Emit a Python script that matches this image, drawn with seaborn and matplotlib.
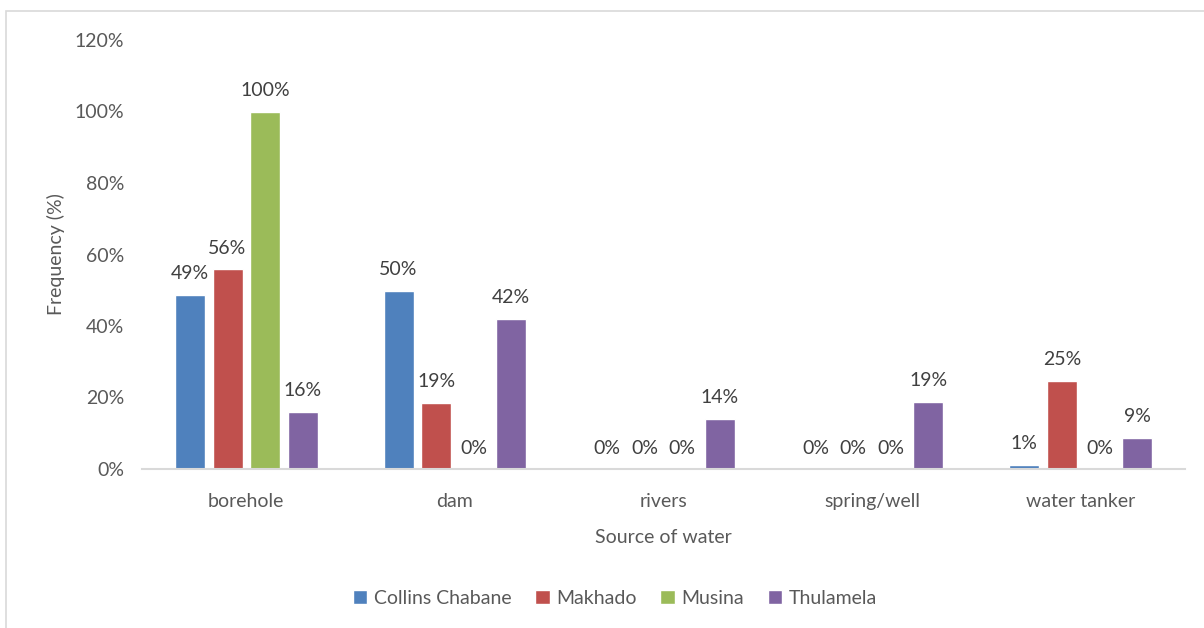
import matplotlib
matplotlib.use("Agg")
import matplotlib.pyplot as plt
import seaborn as sns
import pandas as pd
from matplotlib.patches import Rectangle

sources = ["borehole", "dam", "rivers", "spring/well", "water tanker"]
municipalities = ["Collins Chabane", "Makhado", "Musina", "Thulamela"]
collins_chabane = [0.487, 0.498, 0.0, 0.0, 0.012]
makhado = [0.559, 0.186, 0.0, 0.0, 0.247]
musina = [1.0, 0.0, 0.0, 0.0, 0.0]
thulamela = [0.160, 0.420, 0.140, 0.188, 0.087]
colors = ["#4F81BD", "#C0504D", "#9BBB59", "#8064A2"]
yticks = [0, 0.2, 0.4, 0.6, 0.8, 1.0, 1.2]

series = [collins_chabane, makhado, musina, thulamela]
rows = []
for m, vals in zip(municipalities, series):
    for s, v in zip(sources, vals):
        rows.append({"Source of water": s, "Municipality": m, "Frequency": v})
df = pd.DataFrame(rows)

sns.set_theme(style="white")
plt.rcParams["font.family"] = ["Lato", "DejaVu Sans"]
text_color = "#595959"
fs = 14

fig = plt.figure(figsize=(12.04, 6.28), dpi=100)
ax = fig.add_axes([142 / 1204, 1 - 469 / 628, (1185 - 142) / 1204, (469 - 40) / 628])

sns.barplot(data=df, x="Source of water", y="Frequency", hue="Municipality",
            order=sources, hue_order=municipalities, palette=colors,
            width=0.72, gap=0.2, ax=ax, legend=True, saturation=1)

for cont in ax.containers:
    vals = [b.get_height() for b in cont]
    ax.bar_label(cont, labels=[f"{v:.0%}" for v in vals], padding=9,
                 fontsize=fs, color="#404040")

ax.set_ylim(0, 1.2)
ax.set_xlim(-0.5, len(sources) - 0.5)
ax.set_yticks(yticks)
ax.set_yticklabels([f"{t:.0%}" for t in yticks], fontsize=fs, color=text_color)
ax.tick_params(axis="x", labelsize=fs, labelcolor=text_color, length=0, pad=17)
ax.tick_params(axis="y", length=0, pad=13)
ax.set_xlabel("Source of water", fontsize=fs, color=text_color, labelpad=14)
ax.set_ylabel("Frequency (%)", fontsize=fs, color=text_color, labelpad=7)
for side in ["top", "right", "left"]:
    ax.spines[side].set_visible(False)
ax.spines["bottom"].set_color("#d9d9d9")
ax.spines["bottom"].set_linewidth(1.5)
ax.grid(False)

handles, labels = ax.get_legend_handles_labels()
ax.legend_.remove()
fig.legend(handles, labels, loc="center", bbox_to_anchor=(615 / 1204, 1 - 598 / 628),
           ncol=4, frameon=False, fontsize=fs, handlelength=0.75, handleheight=0.75,
           handletextpad=0.35, columnspacing=1.2, labelcolor=text_color)

fig.patches.append(Rectangle((6 / 1204, -0.1), 1.2, 1 - 11 / 628 + 0.1,
                             transform=fig.transFigure, fill=False,
                             edgecolor="#d9d9d9", linewidth=1.2))

fig.savefig("out.png", dpi=100)
